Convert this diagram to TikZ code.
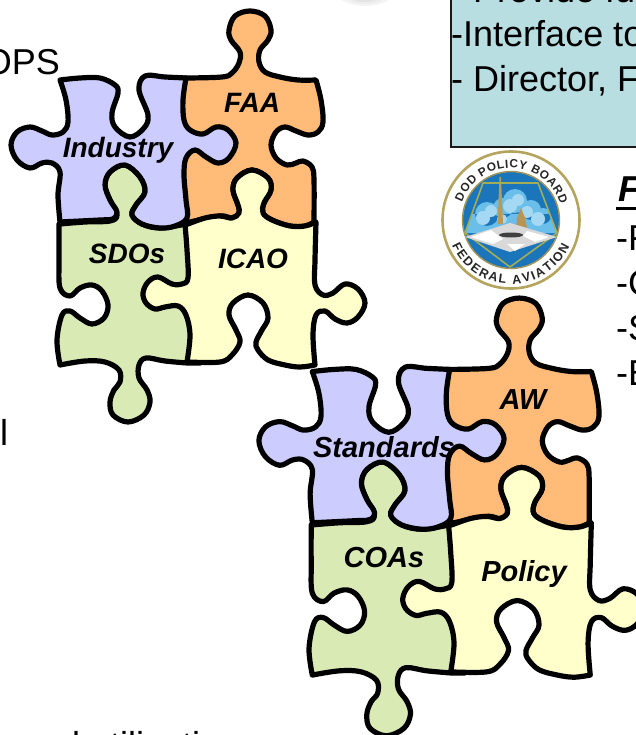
\documentclass[tikz,border=0pt]{standalone}
\usepackage{fontspec}
\setmainfont{Liberation Sans}
\usetikzlibrary{decorations.text}
\definecolor{pblue}{HTML}{CCCCFF}
\definecolor{porange}{HTML}{FFBB77}
\definecolor{pgreen}{HTML}{D9EAB5}
\definecolor{pyellow}{HTML}{FFFFCC}
\definecolor{boxblue}{HTML}{B9DEE2}
\definecolor{sealgold}{HTML}{B5A45E}
\definecolor{sealblue}{HTML}{1B75BB}
\definecolor{sealsky}{HTML}{69BFEA}
\definecolor{sealcloud}{HTML}{A5D8F2}
\newcommand{\sealfont}{\bfseries\fontsize{12.6}{12.6}\selectfont}
\newcommand{\sealfonttop}{\bfseries\fontsize{11.8}{11.8}\selectfont}
\newcommand{\puzzleset}{%
  \path[piece,fill=porange] (175,79) -- plot[smooth,tension=.6] coordinates{(186,78)(222,77)(232,73)(239,63)(240,52)(231,40)(229,30)(235,16)(250,11)(265,16)(271,30)(268,40)(260,50)(259,62)(265,72)(280,77)(298,80)(316,80)}
    -- plot[smooth,tension=.6] coordinates{(316,80)(321,100)(323,122)(318,132)(308,135)(296,131)(285,127)(276,132)(271,145)(276,158)(287,165)(296,163)(303,161)(312,167)(314,180)(314,222)}
    -- plot[smooth,tension=.6] coordinates{(314,222)(305,226)(290,226)(272,220)(263,213)(264,203)(271,190)(268,178)(252,170)(237,178)(233,190)(238,205)(239,213)(232,218)(220,216)(190,222)} -- (175,222) -- cycle;
  \path[piece,fill=pgreen] plot[smooth,tension=.6] coordinates{(60,224)(85,222)(110,221)(117,215)(110,200)(105,185)(110,172)(125,165)(140,177)(145,192)(136,205)(132,215)(142,224)(160,228)(186,224)} -- (200,224) -- (200,363)
    -- plot[smooth,tension=.6] coordinates{(187,363)(165,361)(146,358)(139,365)(139,378)(147,390)(150,402)(144,415)(128,422)(113,415)(110,402)(114,390)(120,382)(119,370)(105,362)(85,361)(60,365)}
    -- plot[smooth,tension=.6] coordinates{(60,365)(57,340)(62,315)(70,311)(80,318)(92,324)(104,318)(108,305)(102,291)(92,285)(80,288)(70,296)(60,288)(59,260)(59,224)} -- cycle;
  \path[piece,fill=pyellow] plot[smooth,tension=.6] coordinates{(188,224)(205,218)(220,216)(232,218)(239,213)(238,205)(233,190)(237,178)(252,170)(268,178)(271,190)(264,203)(263,213)(272,220)(290,226)(305,226)(316,222)}
    -- plot[smooth,tension=.6] coordinates{(316,222)(315,260)(315,285)(323,295)(333,293)(345,284)(358,289)(365,303)(358,317)(347,323)(335,319)(325,311)(316,315)(313,335)(315,365)}
    -- plot[smooth,tension=.6] coordinates{(315,365)(300,367)(285,365)(268,360)(258,350)(256,342)(262,330)(268,318)(263,303)(248,295)(233,303)(229,315)(236,330)(240,342)(232,355)(220,362)(187,362)}
    -- plot[smooth,tension=.6] coordinates{(187,362)(190,335)(186,315)(178,306)(165,307)(155,309)(146,303)(143,293)(148,282)(158,277)(172,284)(182,284)(188,278)(187,250)(185,224)} -- cycle;
  \path[piece,fill=pblue] plot[smooth,tension=.6] coordinates{(60,80)(80,78)(100,78)(115,85)(118,93)(112,113)(115,127)(130,137)(144,128)(148,115)(139,90)(145,76)(165,77)(186,78)}
    -- plot[smooth,tension=.6] coordinates{(186,78)(183,100)(184,120)(190,130)(203,134)(216,127)(228,130)(236,143)(229,158)(218,163)(206,157)(195,150)(186,158)(184,175)(186,200)(187,218)(175,226)(160,228)(142,224)(132,215)(136,205)(145,192)(140,177)(125,165)(110,172)(105,185)(110,200)(117,212)(113,219)(100,220)(60,222)}
    -- plot[smooth,tension=.6] coordinates{(60,222)(58,195)(60,172)(52,163)(42,163)(30,168)(17,160)(11,145)(17,132)(30,127)(42,131)(52,135)(63,132)(68,122)(66,100)(60,80)} -- cycle;
}
\tikzset{
  piece/.style={draw=black,line width=5.2pt,line join=round},
  plabel/.style={font=\bfseries\itshape\fontsize{28}{28}\selectfont,anchor=base,inner sep=0pt},
  qlabel/.style={font=\bfseries\itshape\fontsize{29}{29}\selectfont,anchor=base,inner sep=0pt},
  bodytext/.style={font=\fontsize{36}{36}\selectfont,anchor=base west,inner sep=0pt},
}
\begin{document}
\begin{tikzpicture}[x=1pt,y=-1pt]
\useasboundingbox (0,0) rectangle (636,735);
\clip (0,0) rectangle (636,735);
% grey shadow at the top
\fill[black!4] (365,-8) ellipse (29 and 14);
\fill[black!7] (365,-8) ellipse (24 and 12);
\fill[black!11] (365,-8) ellipse (18 and 10);
% text box
\path[fill=boxblue,draw=black!90,line width=2.6pt] (451,-10) rectangle (650,147);
\fill[white] (584,147.6) rectangle (636,152);
\node[bodytext] (t1) at (451,3) {- Provide full};
\node[bodytext] (t2) at (451,47) {-Interface to};
\node[bodytext] (t3) at (451,92) {- Director, F};
% left margin fragments
\node[font=\fontsize{36}{36}\selectfont,anchor=base east,inner sep=0pt] (ops) at (60,75) {OPS};
\node[bodytext] (ell) at (0,445) {l};
\node[bodytext] (util) at (60,757) {d utilization};
% right list
\node[font=\bfseries\itshape\fontsize{36}{36}\selectfont,anchor=base west,inner sep=0pt] (ptitle) at (618,202) {F};
\draw[line width=3pt] (616,209) -- (640,209);
\node[bodytext] (r1) at (616,250) {-F};
\node[bodytext] (r2) at (616,295) {-C};
\node[bodytext] (r3) at (616,340) {-S};
\node[bodytext] (r4) at (616,385) {-E};
% seal
\begin{scope}[shift={(511,220)},x=1pt,y=1pt]
  \draw[sealgold,line width=2.6pt] (0,0) circle (68.5);
  \fill[sealblue] (0,0) circle (48);
  \draw[sealgold!90!black,line width=1.4pt] (0,0) circle (48.5);
  \begin{scope}
    \clip (-28,37) -- (27,37) -- (46,-13) -- (-46,-13) -- cycle;
    \fill[sealsky] (-46,-13) rectangle (46,6) (-24,6) circle (12) (-8,12) circle (10) (4,19) circle (12) (20,10) circle (10) (32,4) circle (8);
    \fill[sealcloud] (-28,2) circle (7) (-20,9) circle (6) (-1,14) circle (7) (7,20) circle (6) (16,8) circle (6) (27,1) circle (7) (-9,1) circle (5);
  \end{scope}
  \fill[sealgold!70!brown] (-13.5,-4) -- (-11.5,43) -- (-10,43) -- (-8,-4) -- cycle;
  \fill[sealgold!60!brown] (5,-8) -- (6,2) -- (10,12) -- (14,2) -- (16,-8) -- cycle;
  \draw[sealgold!90!green,line width=1.6pt,line join=round] (-28,37) -- (27,37) -- (46,-13) -- (-1,-47) -- (-46,-13) -- cycle;
  \fill[black!15] (-46,-17) -- (-1,-3) -- (46,-17) -- (-1,-32) -- cycle;
  \fill[white] (-40,-17) -- (-20,-10) -- (-8,-19) -- (-18,-24) -- cycle (-4,-24) -- (14,-24) -- (4,-31) -- cycle (16,-11) -- (38,-17) -- (24,-22) -- (12,-16) -- cycle;
  \fill[black!75] (0,-15) ellipse (12 and 2.5);
  \path[decorate,decoration={text along path,text align={fit to path},text color=black!85,text={|\sealfonttop|DOD POLICY BOARD}}] (160:52) arc (160:18:52);
  \path[decorate,decoration={text along path,text align={fit to path},text color=black!85,text={|\sealfont|FEDERAL AVIATION}}] (203:64) arc (203:336:64);
\end{scope}
% first puzzle
\begin{scope}
  \puzzleset
\end{scope}
\node[plabel] (industry) at (118,158) {Industry};
\node[plabel] (faa) at (252,113) {FAA};
\node[plabel] (sdos) at (127,263) {SDOs};
\node[plabel] (icao) at (253,268) {ICAO};
% second puzzle
\begin{scope}[shift={(246.9pt,-286.35pt)},x=1.09pt,y=-1.065pt]
  \puzzleset
\end{scope}
\node[qlabel] (standards) at (384,457) {Standards};
\node[qlabel] (aw) at (523,409) {AW};
\node[qlabel] (coas) at (384,567) {COAs};
\node[qlabel] (policy) at (524,581) {Policy};
\end{tikzpicture}
\end{document}
